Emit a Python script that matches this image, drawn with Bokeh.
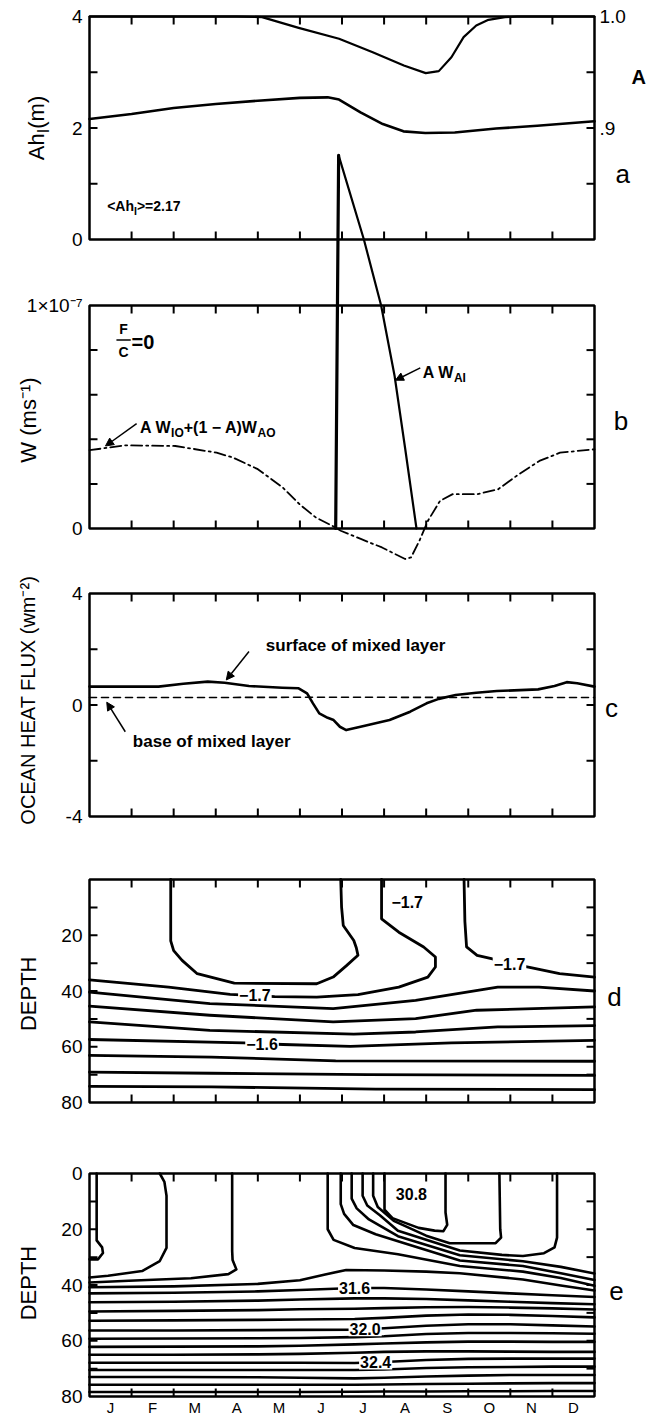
import math
from bokeh.plotting import figure
from bokeh.models import Range1d, Arrow, NormalHead
from bokeh.core.properties import value
from bokeh.embed import file_html
from bokeh.resources import INLINE

# ----------------------------------------------------------------- data
month_labels = ["J", "F", "M", "A", "M", "J", "J", "A", "S", "O", "N", "D"]
month_edges = [1, 2, 3, 4, 5, 6, 7, 8, 9, 10, 11]

# (a) ice volume per area  A*h_I (m)  and ice concentration A
ahi_month = [0, 1.0, 2.0, 3.0, 4.0, 5.0, 5.66, 5.93, 6.44, 6.97, 7.46, 7.98, 8.68, 9.66, 10.64, 12.0]
ahi_m = [2.16, 2.25, 2.36, 2.43, 2.49, 2.54, 2.55, 2.51, 2.28, 2.07, 1.94, 1.91, 1.92, 1.99, 2.04, 2.12]
conc_month = [0, 3.5, 4.1, 4.97, 5.93, 6.73, 7.47, 7.99, 8.3, 8.6, 8.89, 9.19, 9.48, 9.87, 10.17, 12]
conc_a = [1.0, 1.0, 0.9994, 0.9898, 0.980, 0.968, 0.956, 0.9492, 0.951, 0.9635, 0.9815, 0.9919, 0.997, 0.9994, 1.0, 1.0]

# (b) W (units of 1e-7 m/s)
wmix_month = [0, 0.86, 2.04, 3.02, 3.41, 4.0, 4.59, 4.99, 5.38, 5.77, 5.97, 6.46, 6.95, 7.5, 7.64,
              7.84, 8.04, 8.33, 8.63, 9.22, 9.71, 10.2, 10.69, 11.18, 12]
wmix_val = [0.351, 0.373, 0.37, 0.34, 0.318, 0.266, 0.184, 0.109, 0.049, 0.012, -0.01, -0.048, -0.085,
            -0.137, -0.13, -0.055, 0.034, 0.124, 0.154, 0.154, 0.176, 0.243, 0.303, 0.34, 0.355]
wai_month = [5.85, 5.92, 6.52, 6.93, 7.25, 7.5, 7.77]
wai_val = [0.0, 1.673, 1.296, 1.0, 0.684, 0.36, 0.0]

# (c) ocean heat flux (W m-2)
sfc_month = [0, 1.64, 2.23, 2.81, 3.21, 3.79, 4.58, 4.97, 5.17, 5.31, 5.46, 5.66, 5.80, 5.95, 6.10,
             6.44, 7.13, 7.62, 8.01, 8.30, 8.70, 9.19, 9.68, 10.66, 11.05, 11.34, 11.59, 12.0]
sfc_flux = [0.66, 0.66, 0.76, 0.84, 0.8, 0.68, 0.62, 0.6, 0.42, 0.06, -0.3, -0.46, -0.54, -0.78, -0.9,
            -0.78, -0.54, -0.24, 0.06, 0.22, 0.36, 0.44, 0.5, 0.56, 0.68, 0.82, 0.78, 0.66]
base_month = [0, 3, 6, 9, 12]
base_flux = [0.27, 0.27, 0.28, 0.27, 0.27]

# (d) temperature contours: month, depth (m)
d_u_m = [1.93, 1.93, 2.0, 2.2, 2.56, 3.44, 5.4, 5.79, 6.1, 6.38, 6.34, 6.28, 6.03, 5.99, 5.97]
d_u_z = [0, 22, 25.5, 29, 33.8, 37.2, 37.4, 35.0, 31.0, 27.2, 24.5, 21.9, 16.5, 9.9, 0]
d_w_m = [6.94, 6.94, 7.35, 7.94, 8.22, 8.22, 8.04, 7.35, 6.38, 5.4, 4.4, 3.34, 1.88, 0]
d_w_z = [0, 14.1, 18.9, 24.2, 27.8, 31.4, 35.0, 38.6, 41.3, 42.2, 42.0, 41.2, 38.6, 36.0]
d_r_m = [8.9, 8.92, 8.96, 9.21, 9.55, 9.98, 10.43, 11.17, 12]
d_r_z = [0, 15, 24.2, 27.2, 28.4, 30.2, 31.4, 33.8, 35.0]
d_4_m = [0, 2.86, 5.79, 7.75, 9.7, 10.68, 12]
d_4_z = [40.4, 44.5, 46.3, 43.4, 38.6, 38.6, 40.0]
d_5_m = [0, 2.86, 5.79, 7.75, 9.2, 12]
d_5_z = [45.4, 48.7, 51.1, 49.9, 46.9, 45.7]
d_6_m = [0, 2.86, 6.28, 7.75, 9.7, 12]
d_6_z = [51.1, 54.1, 55.5, 54.7, 52.9, 52.4]
d_7_m = [0, 3.66, 4.6, 6.2, 8.6, 12]
d_7_z = [57.4, 58.6, 59.2, 59.9, 58.6, 57.7]
d_8_m = [0, 2.9, 5.85, 12]
d_8_z = [63.1, 63.7, 65.1, 65.2]
d_9_m = [0, 2.9, 6.6, 12]
d_9_z = [69.1, 69.5, 70.0, 70.3]
d_10_m = [0, 2.9, 6.8, 12]
d_10_z = [74.2, 74.4, 75.2, 75.4]
d_labels = ["\u22121.7", "\u22121.7", "\u22121.7", "\u22121.6"]
d_label_m = [3.93, 7.55, 9.98, 4.1]
d_label_z = [41.6, 8.0, 30.3, 58.9]

# (e) salinity contours: month, depth (m)
e_1_m = [0.17, 0.17, 0.3, 0.32, 0.2, 0.0]
e_1_z = [0, 24, 26.5, 28.5, 30.8, 30.8]
e_2_m = [1.67, 1.78, 1.83, 1.83, 1.67, 1.25, 0.44, 0.0]
e_2_z = [0, 3, 8, 26.7, 31.4, 35.0, 36.7, 37.3]
e_3_m = [3.39, 3.39, 3.4, 3.49, 3.3, 2.41, 0.93, 0.0]
e_3_z = [0, 27.8, 31.0, 34.4, 36.1, 37.6, 38.5, 39.1]
f_1_m = [5.66, 5.66, 5.8, 6.3, 7.33, 8.8, 10.3, 11.2, 12]
f_1_z = [0, 20, 23.8, 26.7, 29.0, 33.2, 35.2, 37.5, 40.3]
f_2_m = [5.97, 5.97, 6.05, 6.27, 6.8, 7.33, 8.8, 10.3, 11.2, 12]
f_2_z = [0, 11, 14.5, 18.5, 21.8, 24.3, 31.2, 33.2, 35.8, 38.2]
f_3_m = [6.23, 6.23, 6.35, 6.64, 7.33, 8.8, 10.3, 11.2, 12]
f_3_z = [0, 9, 12.5, 16.5, 22.5, 29.3, 31.5, 33.5, 35.9]
f_4_m = [6.49, 6.49, 6.6, 6.9, 7.33, 8.8, 9.8, 10.3, 10.8, 11.05, 11.11, 11.11]
f_4_z = [0, 8, 11.5, 15, 20.5, 27.6, 29.2, 29.6, 28.6, 26.5, 23, 0]
f_5_m = [6.74, 6.74, 6.85, 7.23, 8.0, 8.56, 9.65, 9.78, 9.76, 9.74]
f_5_z = [0, 8, 12, 17.0, 22.3, 25.0, 25.0, 23, 20, 0]
f_6_m = [7.01, 7.01, 7.2, 7.82, 8.2, 8.41, 8.5, 8.46, 8.46]
f_6_z = [0, 13, 16, 19.5, 20.5, 20.7, 18.4, 14, 0]
s315_m = [0, 2, 4, 5, 5.6, 6.1, 7.0, 8.0, 8.8, 10.3, 11.2, 12]
s315_z = [40.8, 40.5, 39.6, 38.3, 36.2, 34.6, 34.8, 35.2, 35.8, 38.0, 40.2, 42.0]
e_grid_m = [0, 2, 4, 5, 6.3, 7, 8, 9, 10, 11, 12]
s316_z = [43.0, 42.8, 42.3, 41.8, 41.1, 41.1, 41.6, 42.3, 43.0, 43.7, 44.3]
s317_z = [46.2, 46.0, 45.6, 45.2, 44.8, 44.8, 45.0, 45.5, 46.0, 46.5, 46.9]
s318_z = [49.5, 49.3, 49.0, 48.7, 48.5, 48.3, 48.0, 47.9, 48.1, 48.4, 48.8]
s319_z = [52.8, 52.7, 52.5, 52.4, 52.2, 51.8, 51.0, 50.6, 50.7, 51.1, 51.6]
s320_z = [56.3, 56.3, 56.2, 56.1, 56.0, 55.5, 54.6, 54.1, 54.1, 54.5, 54.9]
s321_z = [59.3, 59.2, 59.1, 59.0, 58.7, 58.4, 57.6, 57.2, 57.2, 57.3, 57.5]
s322_z = [62.2, 62.1, 62.0, 61.8, 61.3, 61.0, 60.6, 60.3, 60.3, 60.4, 60.4]
s323_z = [65.0, 65.0, 64.9, 64.7, 64.3, 64.0, 63.8, 63.8, 63.9, 64.0, 64.0]
s324_z = [67.9, 67.9, 67.9, 67.9, 68.0, 67.6, 66.9, 66.5, 66.4, 66.4, 66.4]
s325_z = [70.5, 70.5, 70.5, 70.5, 70.5, 70.3, 69.8, 69.5, 69.4, 69.3, 69.3]
s326_z = [73.0, 73.0, 73.1, 73.3, 73.5, 73.3, 72.8, 72.5, 72.3, 72.3, 72.3]
s327_z = [75.8, 75.8, 75.8, 75.8, 75.8, 75.7, 75.5, 75.4, 75.3, 75.2, 75.2]
s328_z = [78.4, 78.4, 78.4, 78.4, 78.3, 78.2, 78.2, 78.1, 78.1, 78.0, 78.0]
e_labels = ["30.8", "31.6", "32.0", "32.4"]
e_label_m = [7.65, 6.3, 6.55, 6.8]
e_label_z = [7.5, 41.1, 55.9, 67.8]

# ----------------------------------------------------------------- layout
FIG_W, FIG_H = 652, 1419
PAGE = 0
BOX_L, BOX_R = 89, 594
# value/pixel anchors of each panel (pixel rows on the page)
ANCH = {
    "a": (4.0, 16, 0.0, 239),
    "aA": (1.0, 16, 0.8, 239),
    "b": (1.0, 305, 0.0, 528),
    "c": (4.0, 593, -4.0, 816),
    "d": (0.0, 879, 80.0, 1102),
    "e": (0.0, 1173, 80.0, 1396),
}


def vrange(v1, y1, v2, y2):
    s = (v2 - v1) / (y2 - y1)
    return Range1d(start=v1 + (PAGE + FIG_H - y1) * s, end=v1 + (PAGE - y1) * s)


ranges = {k: vrange(*v) for k, v in ANCH.items()}
pxm = (BOX_R - BOX_L) / 12.0
xr = Range1d(start=(PAGE - BOX_L) / pxm, end=(PAGE + FIG_W - BOX_L) / pxm)

p = figure(width=FIG_W, height=FIG_H, x_range=xr, y_range=ranges["a"],
           output_backend="svg", toolbar_location=None,
           x_axis_type=None, y_axis_type=None, min_border=0)
p.extra_y_ranges = {k: r for k, r in ranges.items() if k != "a"}
p.outline_line_color = None
p.background_fill_color = "white"
p.border_fill_color = "white"
RN = {k: ("default" if k == "a" else k) for k in ranges}

FT = "Liberation Sans"
INK = "black"
TL = 8


def line(xs, ys, rn, w=2.5, dash="solid"):
    p.line(xs, ys, line_color=INK, line_width=w, line_dash=dash, line_join="round",
           line_cap="round", y_range_name=RN[rn])


def txt(x, y, s, rn, size, align="left", baseline="middle", bold=False,
        angle=0.0, xo=0, yo=0):
    p.text(x=[x], y=[y], text=[s], y_range_name=RN[rn], text_font=value(FT),
           text_font_size=f"{size}px", text_font_style="bold" if bold else "normal",
           text_align=align, text_baseline=baseline, angle=angle, x_offset=xo, y_offset=yo,
           text_color=INK)


W_REG = {"A": .667, "W": .944, "h": .556, "I": .278, "(": .333, ")": .333, "m": .833, " ": .278,
         "<": .584, ">": .584, "=": .584, "+": .584, "\u2212": .584, ".": .278, "O": .778}
W_BOLD = {"A": .722, "W": .944, "h": .611, "I": .278, "(": .333, ")": .333, "m": .889, " ": .278,
          "<": .584, ">": .584, "=": .584, "+": .584, "\u2212": .584, ".": .278, "O": .778}


def tw(s, size, bold):
    tab = W_BOLD if bold else W_REG
    return sum(tab.get(ch, .556) for ch in s) * size


def compose(pieces, x, y, rn, size, bold=True):
    off = 0.0
    for s, sub in pieces:
        fs = size * 0.75 if sub else size
        txt(x, y, s, rn, fs, bold=bold, xo=off, yo=(size * 0.35 if sub else 0),
            baseline="alphabetic")
        off += tw(s, fs, bold)


def vcompose(pieces, x, yc, rn, size):
    total = sum(tw(s, size * 0.75 if sub else size, False) for s, sub in pieces)
    off = total / 2.0
    for s, sub in pieces:
        fs = size * 0.75 if sub else size
        txt(x, yc, s, rn, fs, angle=math.pi / 2, align="left", baseline="alphabetic",
            xo=size * 0.36 + (size * 0.32 if sub else 0), yo=off)
        off -= tw(s, fs, False)


def frame(rn, lo, hi, lticks, rticks):
    p.quad(left=[0], right=[12], bottom=[lo], top=[hi], fill_color=None, line_color=INK,
           line_width=2.5, y_range_name=RN[rn])
    p.ray(x=[0] * len(lticks), y=lticks, length=TL, length_units="screen", angle=0,
          line_color=INK, line_width=2, y_range_name=RN[rn])
    p.ray(x=[12] * len(rticks), y=rticks, length=TL, length_units="screen", angle=math.pi,
          line_color=INK, line_width=2, y_range_name=RN[rn])
    p.ray(x=month_edges, y=[lo] * 11, length=TL, length_units="screen", angle=math.pi / 2,
          line_color=INK, line_width=2, y_range_name=RN[rn])
    p.ray(x=month_edges, y=[hi] * 11, length=TL, length_units="screen", angle=-math.pi / 2,
          line_color=INK, line_width=2, y_range_name=RN[rn])


def ylabels(rn, vals, labels, size=19):
    p.text(x=[0] * len(vals), y=vals, text=labels, y_range_name=RN[rn], x_offset=-7,
           text_align="right", text_baseline="middle", text_font=value(FT),
           text_font_size=f"{size}px", text_color=INK)


def arrow(rn, x0, y0, x1, y1):
    p.add_layout(Arrow(end=NormalHead(size=8, fill_color=INK, line_color=INK), x_start=x0,
                       y_start=y0, x_end=x1, y_end=y1, line_width=1.5, y_range_name=RN[rn]))


YT_X = -1.45

# ---------------- panel a
frame("a", 0, 4, [1, 2, 3], [1, 2, 3])
ylabels("a", [0, 2, 4], ["0", "2", "4"])
txt(12, 4, "1.0", "a", 19, xo=5)
txt(12, 2, ".9", "a", 19, xo=5)
txt(12.88, 2.92, "A", "a", 20, bold=True)
txt(12.5, 1.18, "a", "a", 26)
line(ahi_month, ahi_m, "a", w=2.6)
line(conc_month, conc_a, "aA", w=2.2)
vcompose([("Ah", False), ("I", True), ("(m)", False)], YT_X, 2.0, "a", 22)
compose([("<Ah", False), ("I", True), (">=2.17", False)], 0.42, 0.6, "a", 14)

# ---------------- panel b
frame("b", 0, 1, [0.2, 0.4, 0.6, 0.8], [0.2, 0.4, 0.6, 0.8])
ylabels("b", [0, 1], ["0", "1\u00d710\u207b\u2077"])
txt(12.46, 0.48, "b", "b", 26)
txt(YT_X, 0.5, "W  (ms\u207b\u00b9)", "b", 22, angle=math.pi / 2, align="center",
    baseline="middle")
line(wmix_month, wmix_val, "b", w=1.8, dash="11 4 2 4")
line(wai_month[:2], wai_val[:2], "b", w=3.2)
line(wai_month[1:], wai_val[1:], "b", w=2.2)
txt(0.81, 0.895, "F", "b", 14, bold=True, align="center")
txt(0.81, 0.79, "C", "b", 14, bold=True, align="center")
p.segment(x0=[0.64], y0=[0.845], x1=[0.98], y1=[0.845], line_color=INK, line_width=1.5,
          y_range_name="b")
txt(1.0, 0.838, "=0", "b", 20, bold=True)
compose([("A W", False), ("AI", True)], 7.92, 0.7, "b", 16)
compose([("A W", False), ("IO", True), ("+(1 \u2212 A)W", False), ("AO", True)], 1.2, 0.455,
        "b", 16)
arrow("b", 7.86, 0.72, 7.27, 0.665)
arrow("b", 1.12, 0.47, 0.38, 0.37)

# ---------------- panel c
frame("c", -4, 4, [-2, 0, 2], [-2, 0, 2])
ylabels("c", [-4, 0, 4], ["-4", "0", "4"])
txt(12.25, -0.12, "c", "c", 26)
txt(YT_X, 0.27, "OCEAN HEAT FLUX  (wm\u207b\u00b2)", "c", 20, angle=math.pi / 2,
    align="center", baseline="middle")
line(base_month, base_flux, "c", w=1.6, dash="7 5")
line(sfc_month, sfc_flux, "c", w=2.6)
txt(4.19, 2.14, "surface of mixed layer", "c", 17, bold=True)
txt(1.03, -1.32, "base of mixed layer", "c", 17, bold=True)
arrow("c", 3.79, 1.92, 3.25, 0.9)
arrow("c", 0.85, -0.96, 0.41, 0.1)

# ---------------- panel d
frame("d", 80, 0, [10, 20, 30, 40, 50, 60, 70], [10, 20, 30, 40, 50, 60, 70])
ylabels("d", [20, 40, 60, 80], ["20", "40", "60", "80"])
txt(12.3, 42.2, "d", "d", 26)
txt(YT_X, 41.0, "DEPTH", "d", 22, angle=math.pi / 2, align="center", baseline="middle")
for xs, zs in [(d_u_m, d_u_z), (d_w_m, d_w_z), (d_r_m, d_r_z), (d_4_m, d_4_z), (d_5_m, d_5_z),
               (d_6_m, d_6_z), (d_7_m, d_7_z), (d_8_m, d_8_z), (d_9_m, d_9_z), (d_10_m, d_10_z)]:
    line(xs, zs, "d", w=2.8)
p.text(x=d_label_m, y=d_label_z, text=d_labels, y_range_name="d", text_font=value(FT),
       text_font_size="16px", text_font_style="bold", text_align="center",
       text_baseline="middle", text_color=INK, background_fill_color="white", padding=1)

# ---------------- panel e
frame("e", 80, 0, [10, 20, 30, 40, 50, 60, 70], [10, 20, 30, 40, 50, 60, 70])
ylabels("e", [0, 20, 40, 60, 80], ["0", "20", "40", "60", "80"])
txt(12.35, 42.0, "e", "e", 26)
txt(YT_X, 39.3, "DEPTH", "e", 22, angle=math.pi / 2, align="center", baseline="middle")
for xs, zs in [(e_1_m, e_1_z), (e_2_m, e_2_z), (e_3_m, e_3_z), (f_1_m, f_1_z), (f_2_m, f_2_z),
               (f_3_m, f_3_z), (f_4_m, f_4_z), (f_5_m, f_5_z), (f_6_m, f_6_z), (s315_m, s315_z)]:
    line(xs, zs, "e", w=2.6)
for zs in [s316_z, s317_z, s318_z, s319_z, s320_z, s321_z, s322_z, s323_z, s324_z, s325_z,
           s326_z, s327_z, s328_z]:
    line(e_grid_m, zs, "e", w=2.6)
p.text(x=e_label_m, y=e_label_z, text=e_labels, y_range_name="e", text_font=value(FT),
       text_font_size="16px", text_font_style="bold", text_align="center",
       text_baseline="middle", text_color=INK, background_fill_color="white", padding=1)
p.text(x=[i + 0.5 for i in range(12)], y=[80] * 12, text=month_labels, y_range_name="e",
       y_offset=2, text_align="center", text_baseline="top", text_font=value(FT),
       text_font_size="15px", text_color=INK)

open("out.html", "w").write(file_html(p, INLINE))
